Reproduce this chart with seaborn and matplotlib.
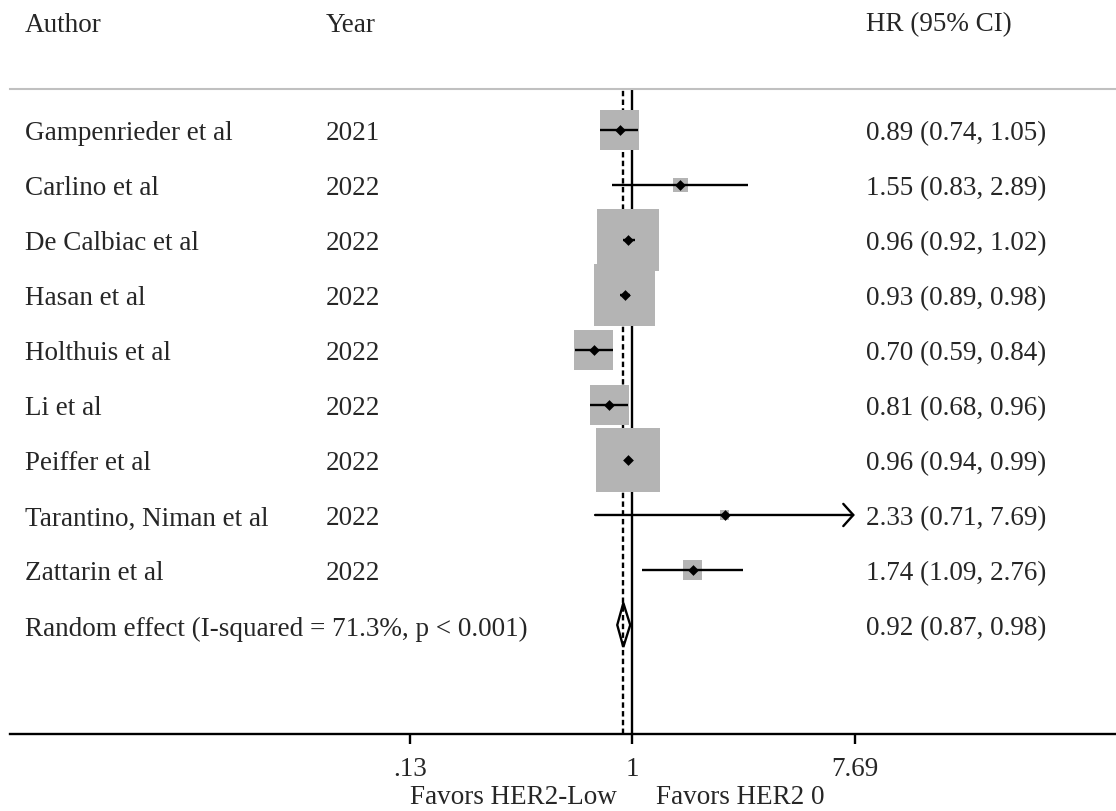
import numpy as np
import pandas as pd
import matplotlib
matplotlib.use("Agg")
import matplotlib.pyplot as plt
import matplotlib.transforms as mtransforms
import seaborn as sns

# ---------------- data ----------------
authors = ["Gampenrieder et al", "Carlino et al", "De Calbiac et al", "Hasan et al",
           "Holthuis et al", "Li et al", "Peiffer et al", "Tarantino, Niman et al",
           "Zattarin et al"]
years = ["2021", "2022", "2022", "2022", "2022", "2022", "2022", "2022", "2022"]
hr = [0.89, 1.55, 0.96, 0.93, 0.70, 0.81, 0.96, 2.33, 1.74]
lo = [0.74, 0.83, 0.92, 0.89, 0.59, 0.68, 0.94, 0.71, 1.09]
hi = [1.05, 2.89, 1.02, 0.98, 0.84, 0.96, 0.99, 7.69, 2.76]
weights = [9.1, 1.3, 22.2, 22.2, 9.1, 9.1, 24.4, 0.5, 2.2]   # % weight (box area)

pooled_label = "Random effect (I-squared = 71.3%, p < 0.001)"
pooled_hr, pooled_lo, pooled_hi = 0.92, 0.87, 0.98

tick_values = [0.13, 1, 7.69]
tick_labels = [".13", "1", "7.69"]
favors_left = "Favors HER2-Low"
favors_right = "Favors HER2 0"
headers = ["Author", "Year", "HR (95% CI)"]

# ---------------- style ----------------
sns.set_theme(style="white")
plt.rcParams["font.family"] = ["Liberation Serif", "DejaVu Serif"]
FS = 19.5
LW = 1.7

W, H = 1116, 812
fig = plt.figure(figsize=(W / 100, H / 100), dpi=100)
ax = fig.add_axes([10 / W, (H - 735) / H, (W - 10) / W, (735 - 90) / H])

df = pd.DataFrame({"author": authors, "year": years, "hr": hr, "lo": lo, "hi": hi,
                   "w": weights})
df["row"] = np.arange(len(df))
pooled_row = len(df)

ax.set_xscale("log")
ax.set_xlim(0.00332, 84.3)
ax.set_ylim(10.982, -0.745)

# reference lines
ax.axvline(1, color="black", lw=LW, zorder=1)
ax.axvline(pooled_hr, color="black", lw=LW, ls=(0, (2.3, 1.4)), zorder=1)

# weight boxes
k = 87.1
sns.scatterplot(data=df, x="hr", y="row", size="w",
                sizes=(k * min(weights), k * max(weights)),
                size_norm=(min(weights), max(weights)),
                marker="s", color="#b4b4b4", linewidth=0, legend=False,
                ax=ax, zorder=2)

# confidence intervals
xmax_tick = max(tick_values)
normal = df[df["hi"] < xmax_tick]
ax.hlines(normal["row"], normal["lo"], normal["hi"], color="black", lw=LW, zorder=3)
for _, r in df[df["hi"] >= xmax_tick].iterrows():
    ax.annotate("", xy=(r["hi"], r["row"]), xytext=(r["lo"], r["row"]),
                arrowprops=dict(arrowstyle="->,head_length=0.36,head_width=0.4",
                                color="black", lw=LW, shrinkA=0, shrinkB=0,
                                mutation_scale=20),
                zorder=3)

# point estimates
sns.scatterplot(data=df, x="hr", y="row", marker="D", color="black", s=30,
                linewidth=0, legend=False, ax=ax, zorder=4)

# pooled diamond
dh = 0.4
ax.fill([pooled_lo, pooled_hr, pooled_hi, pooled_hr],
        [pooled_row, pooled_row - dh, pooled_row, pooled_row + dh],
        facecolor="none", edgecolor="black", lw=LW, zorder=3)

# axes styling
for s in ["left", "right"]:
    ax.spines[s].set_visible(False)
ax.spines["top"].set_color("#c0c0c0")
ax.spines["top"].set_linewidth(1.5)
ax.spines["bottom"].set_color("black")
ax.spines["bottom"].set_linewidth(LW)
ax.set_xticks(tick_values)
ax.set_xticklabels(tick_labels, fontsize=FS)
ax.xaxis.set_minor_locator(matplotlib.ticker.NullLocator())
ax.tick_params(axis="x", direction="out", length=7.5, width=LW, color="black",
               pad=8.2, bottom=True)
ax.set_yticks([])
ax.set_xlabel("")
ax.set_ylabel("")

# text columns (shifted 3 px down so glyphs are optically centred on the rows)
shift = mtransforms.ScaledTranslation(0, -3 / 100, fig.dpi_scale_trans)
tr = mtransforms.blended_transform_factory(fig.transFigure, ax.transData) + shift
x_author, x_year, x_hr = 25 / W, 326 / W, 866 / W
for _, r in df.iterrows():
    ax.text(x_author, r["row"], r["author"], transform=tr, fontsize=FS,
            va="center", ha="left", clip_on=False)
    ax.text(x_year, r["row"], r["year"], transform=tr, fontsize=FS,
            va="center", ha="left", clip_on=False)
    ax.text(x_hr, r["row"], f"{r['hr']:.2f} ({r['lo']:.2f}, {r['hi']:.2f})",
            transform=tr, fontsize=FS, va="center", ha="left", clip_on=False)
ax.text(x_author, pooled_row, pooled_label, transform=tr, fontsize=FS,
        va="center", ha="left", clip_on=False)
ax.text(x_hr, pooled_row, f"{pooled_hr:.2f} ({pooled_lo:.2f}, {pooled_hi:.2f})",
        transform=tr, fontsize=FS, va="center", ha="left", clip_on=False)

for xh, txt in zip([x_author, x_year, x_hr], headers):
    fig.text(xh, 1 - 25 / H, txt, fontsize=FS, va="center", ha="left")

fig.text(617 / W, 1 - 798 / H, favors_left, fontsize=FS, va="center", ha="right")
fig.text(656 / W, 1 - 798 / H, favors_right, fontsize=FS, va="center", ha="left")

fig.savefig("out.png", dpi=100)
